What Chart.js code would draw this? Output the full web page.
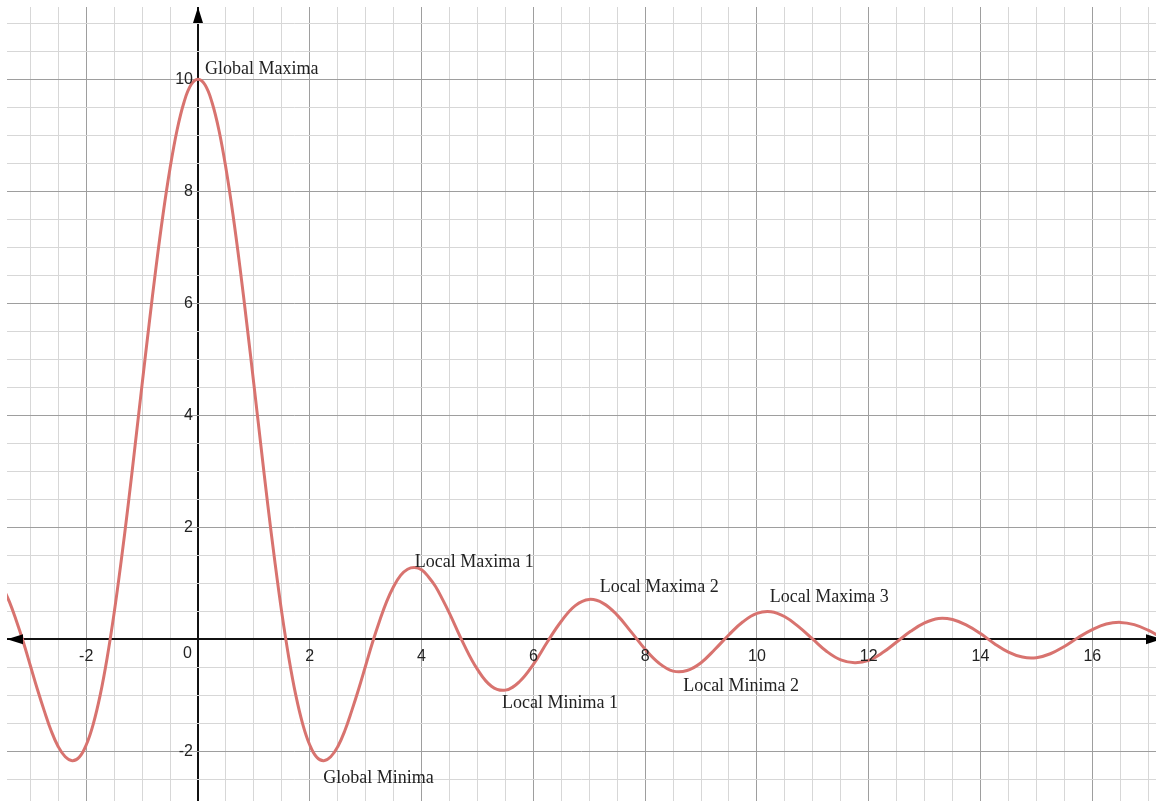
<!DOCTYPE html>
<html>
<head>
<meta charset="utf-8">
<title>Maxima and minima</title>
<script src="https://cdn.jsdelivr.net/npm/chart.js@4.4.1/dist/chart.umd.min.js"></script>
<style>
  html, body { margin: 0; padding: 0; background: #fff; }
  #wrap { width: 1156px; height: 801px; position: relative; }
</style>
</head>
<body>
<div id="wrap"><canvas id="grafico"></canvas></div>
<script>
// ---- data (finer steps where the curve is steep) ----
const xValues = [
  -3.5, -3.375, -3.25, -3.125, -3, -2.875, -2.75, -2.625, -2.5, -2.375, -2.25, -2.125,
  -2, -1.875, -1.75, -1.625, -1.5, -1.375, -1.25, -1.125, -1, -0.875, -0.75, -0.625,
  -0.5, -0.375, -0.25, -0.125, 0, 0.125, 0.25, 0.375, 0.5, 0.625, 0.75, 0.875,
  1, 1.125, 1.25, 1.375, 1.5, 1.625, 1.75, 1.875, 2, 2.125, 2.25, 2.375,
  2.5, 2.625, 2.75, 2.875, 3, 3.125, 3.25, 3.375, 3.5, 3.625, 3.75, 3.875,
  4, 4.125, 4.25, 4.375, 4.5,
  4.75, 5, 5.25, 5.5, 5.75, 6, 6.25, 6.5, 6.75, 7, 7.25, 7.5, 7.75,
  8, 8.25, 8.5, 8.75, 9, 9.25, 9.5, 9.75, 10, 10.25, 10.5, 10.75, 11, 11.25, 11.5, 11.75,
  12, 12.25, 12.5, 12.75, 13, 13.25, 13.5, 13.75, 14, 14.25, 14.5, 14.75, 15, 15.25, 15.5, 15.75,
  16, 16.25, 16.5, 16.75, 17, 17.25
];
const yValues = [
  0.94, 0.67, 0.33, -0.05, -0.47, -0.89, -1.28, -1.64, -1.92, -2.10, -2.17, -2.11,
  -1.89, -1.52, -1.00, -0.33, 0.47, 1.39, 2.39, 3.46, 4.55, 5.62, 6.65, 7.59,
  8.41, 9.09, 9.59, 9.90, 10, 9.90, 9.59, 9.09, 8.41, 7.59, 6.65, 5.62,
  4.55, 3.46, 2.39, 1.39, 0.47, -0.33, -1.00, -1.52, -1.89, -2.11, -2.17, -2.10,
  -1.92, -1.64, -1.28, -0.89, -0.47, -0.05, 0.33, 0.67, 0.94, 1.14, 1.25, 1.28,
  1.24, 1.11, 0.94, 0.71, 0.46,
  -0.08, -0.54, -0.84, -0.91, -0.76, -0.45, -0.05, 0.32, 0.60, 0.71, 0.64, 0.43, 0.13,
  -0.18, -0.43, -0.57, -0.56, -0.42, -0.18, 0.08, 0.31, 0.46, 0.49, 0.40, 0.22, 0.00, -0.22, -0.37, -0.42,
  -0.38, -0.24, -0.05, 0.14, 0.29, 0.37, 0.35, 0.25, 0.10, -0.08, -0.23, -0.32, -0.33, -0.26, -0.13, 0.03,
  0.17, 0.27, 0.30, 0.26, 0.16, 0.02
];

const xTickLabels = [-2, 2, 4, 6, 8, 10, 12, 14, 16];
const yTickLabels = [-2, 2, 4, 6, 8, 10];

// annotations (text, x, y of the text baseline start)
const noteTexts = ["Global Maxima", "Local Maxima 1", "Local Maxima 2", "Local Maxima 3",
                   "Local Minima 1", "Local Minima 2", "Global Minima"];
const noteX = [0.125, 3.88, 7.19, 10.23, 5.44, 8.68, 2.24];
const noteY = [10.09, 1.29, 0.845, 0.666, -1.227, -0.923, -2.566];

// ---- look ----
const curveColor = "#d8736f";
const majorGrid = "#9e9e9e";
const minorGrid = "#d7d7d7";

const isMajor = (v) => Math.abs(v % 2) < 1e-9;
const gridColor = (ctx) => {
  const v = ctx.tick ? ctx.tick.value : NaN;
  if (v === 0) return "#111";
  return isMajor(v) ? majorGrid : minorGrid;
};
const gridWidth = (ctx) => (ctx.tick && ctx.tick.value === 0 ? 2 : 1);

function flecha(ctx, tipX, tipY, dx, dy) {
  // triangle pointing in direction (dx, dy)
  const len = 16, half = 5;
  const bx = tipX - dx * len, by = tipY - dy * len;
  ctx.beginPath();
  ctx.moveTo(tipX, tipY);
  ctx.lineTo(bx - dy * half, by + dx * half);
  ctx.lineTo(bx + dy * half, by - dx * half);
  ctx.closePath();
  ctx.fill();
}

const overlay = {
  id: "overlay",
  afterDatasetsDraw(chart) {
    const { ctx, chartArea: area, scales: { x, y } } = chart;
    const x0 = x.getPixelForValue(0);
    const y0 = y.getPixelForValue(0);
    ctx.save();

    // axis arrows
    ctx.fillStyle = "#000";
    flecha(ctx, x0, area.top, 0, -1);
    flecha(ctx, area.left, y0, -1, 0);
    flecha(ctx, area.right + 6, y0, 1, 0);

    // tick numbers next to the axes
    ctx.fillStyle = "#222";
    ctx.font = '16px "Liberation Sans", Arial, sans-serif';
    ctx.textBaseline = "middle";
    ctx.textAlign = "center";
    xTickLabels.forEach(v => ctx.fillText(String(v), x.getPixelForValue(v), y0 + 17));
    ctx.textAlign = "right";
    yTickLabels.forEach(v => ctx.fillText(String(v), x0 - 5, y.getPixelForValue(v)));
    ctx.fillText("0", x0 - 6, y0 + 14);

    // notes
    ctx.fillStyle = "#222";
    ctx.font = '18px "Liberation Serif", serif';
    ctx.textAlign = "left";
    ctx.textBaseline = "alphabetic";
    noteTexts.forEach((t, i) => ctx.fillText(t, x.getPixelForValue(noteX[i]), y.getPixelForValue(noteY[i])));

    ctx.restore();
  }
};

const puntos = xValues.map((v, i) => ({ x: v, y: yValues[i] }));

new Chart(document.getElementById("grafico"), {
  type: "line",
  data: {
    datasets: [{
      data: puntos,
      borderColor: curveColor,
      borderWidth: 3,
      pointRadius: 0,
      tension: 0.4,
      fill: false
    }]
  },
  options: {
    responsive: true,
    maintainAspectRatio: false,
    animation: false,
    layout: { padding: { left: 7, top: 7, right: 0, bottom: 0 } },
    plugins: { legend: { display: false }, tooltip: { enabled: false } },
    scales: {
      x: {
        type: "linear",
        min: -3.417,
        max: 17.14,
        border: { display: false },
        grid: { color: gridColor, lineWidth: gridWidth, drawTicks: false },
        ticks: { display: false, stepSize: 0.5, includeBounds: false, autoSkip: false, maxTicksLimit: 1000 }
      },
      y: {
        type: "linear",
        min: -2.89,
        max: 11.29,
        border: { display: false },
        grid: { color: gridColor, lineWidth: gridWidth, drawTicks: false },
        ticks: { display: false, stepSize: 0.5, includeBounds: false, autoSkip: false, maxTicksLimit: 1000 }
      }
    }
  },
  plugins: [overlay]
});
</script>
</body>
</html>
